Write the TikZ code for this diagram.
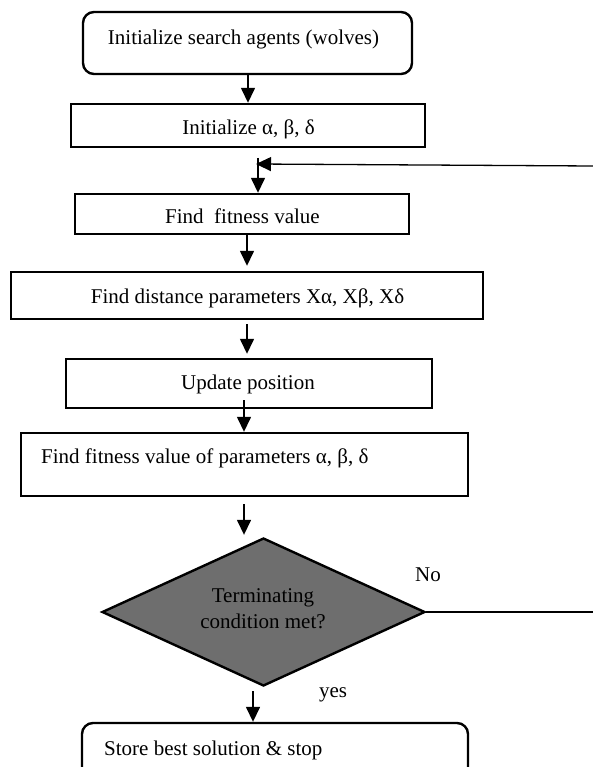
\documentclass[tikz,border=0pt]{standalone}
\usepackage{fontspec}
\setmainfont{Liberation Serif}
\usetikzlibrary{arrows.meta,shapes.geometric,calc}
\definecolor{dgray}{HTML}{6E6E6E}
\begin{document}
\begin{tikzpicture}[x=1pt,y=-1pt,
  box/.style={draw,line width=2.4pt,inner sep=0pt,rectangle},
  rbox/.style={box,rounded corners=11pt},
  txt/.style={inner sep=0pt,font=\fontsize{21}{26}\selectfont},
  arr/.style={line width=1.5pt,-{Triangle[length=15pt,width=14pt]}},
  fb/.style={line width=1.3pt}
]
\useasboundingbox (0,0) rectangle (593,767);
\clip (0,0) rectangle (593,767);
% boxes
\node[rbox,minimum width=329pt,minimum height=62pt] (b1) at (247.5,43) {};
\node[box,minimum width=354pt,minimum height=43pt] (b2) at (248,125.5) {};
\node[box,minimum width=334pt,minimum height=40pt] (b3) at (242,214) {};
\node[box,minimum width=472pt,minimum height=47pt] (b4) at (247,295.5) {};
\node[box,minimum width=366pt,minimum height=49pt] (b5) at (249,383.5) {};
\node[box,minimum width=447pt,minimum height=63pt] (b6) at (244.5,464.5) {};
\node[draw,line width=2.4pt,fill=dgray,diamond,inner sep=0pt,minimum width=323pt,minimum height=148pt] (dia) at (263.5,612) {};
\node[rbox,minimum width=386pt,minimum height=70pt] (b7) at (275,758) {};
% texts
\node[txt,anchor=base] (t1) at (243.5,45) {Initialize search agents (wolves)};
\node[txt,anchor=base] (t2) at (248.5,135) {Initialize α, β, δ};
\node[txt,anchor=base] (t3) at (242.5,223) {Find\ \ fitness value};
\node[txt,anchor=base] (t4) at (247.5,303) {Find distance parameters Xα, Xβ, Xδ};
\node[txt,anchor=base] (t5) at (248,389) {Update position};
\node[txt,anchor=base west] (t6) at (41,463) {Find fitness value of parameters α, β, δ};
\node[txt,anchor=base] (dt1) at (263,602) {Terminating};
\node[txt,anchor=base] (dt2) at (263,628) {condition met?};
\node[txt,anchor=base] (no) at (428,581) {No};
\node[txt,anchor=base] (yes) at (333,697) {yes};
\node[txt,anchor=base west] (t7) at (104,755) {Store best solution \& stop};
% arrow x positions
\coordinate (ax1) at (248,0);
\coordinate (ax3) at (247,0);
\coordinate (ax5) at (244,0);
\coordinate (ax7) at (253,0);
% connectors
\draw[arr] (b1.south -| ax1) -- (b2.north -| ax1);
\draw[arr] (b3.south -| ax3) -- ($(b4.north -| ax3)+(0,-5)$);
\draw[arr] ($(b4.south -| ax3)+(0,4)$) -- ($(b5.north -| ax3)+(0,-4)$);
\draw[arr] ($(b5.south -| ax5)+(0,-9)$) -- (b6.north -| ax5);
\draw[arr] ($(b6.south -| ax5)+(0,7)$) -- ($(dia.north -| ax5)+(0,-2)$);
\draw[arr] ($(dia.south -| ax7)+(0,4)$) -- (b7.north -| ax7);
% feedback loop
\coordinate (noR) at (593,612);
\coordinate (fbR) at (593,166);
\coordinate (fbT) at (256,164);
\coordinate (fbV) at (258,158);
\draw[fb] (dia.east) -- (noR);
\draw[fb,-{Triangle[length=15pt,width=14pt]}] (fbR) -- (fbT);
\draw[arr] (fbV) -- (b3.north -| fbV);
\end{tikzpicture}
\end{document}
